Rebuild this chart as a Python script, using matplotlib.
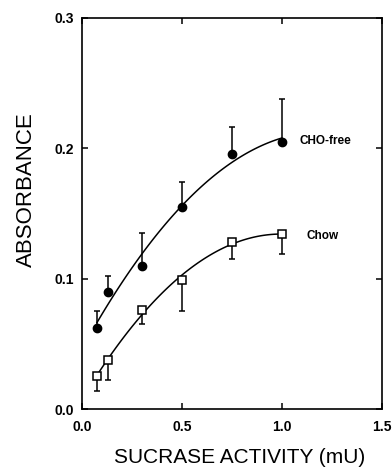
import numpy as np
import matplotlib
matplotlib.use("Agg")
import matplotlib.pyplot as plt

plt.rcParams['font.family'] = ['Liberation Sans', 'DejaVu Sans']

# CHO-free group (filled circles, error bars upward)
cho_x = [0.075, 0.13, 0.30, 0.50, 0.75, 1.00]
cho_y = [0.0625, 0.090, 0.110, 0.155, 0.196, 0.205]
cho_err = [0.013, 0.012, 0.025, 0.019, 0.020, 0.033]

# Chow group (open squares, error bars downward)
chow_x = [0.075, 0.13, 0.30, 0.50, 0.75, 1.00]
chow_y = [0.0255, 0.0375, 0.076, 0.099, 0.128, 0.134]
chow_err = [0.012, 0.015, 0.011, 0.024, 0.013, 0.015]

xticks = [0.0, 0.5, 1.0, 1.5]
yticks = [0.0, 0.1, 0.2, 0.3]

fig = plt.figure(figsize=(3.92, 4.71), dpi=100)
ax = fig.add_axes([0.209, 0.1316, 0.765, 0.8302])

# smooth fitted curves (2nd order fit through the means)
for xs, ys in [(cho_x, cho_y), (chow_x, chow_y)]:
    p = np.polyfit(xs, ys, 2)
    xx = np.linspace(min(xs), max(xs), 100)
    ax.plot(xx, np.polyval(p, xx), color='black', lw=1.1)

ax.errorbar(cho_x, cho_y, yerr=[np.zeros(len(cho_err)), cho_err], fmt='o',
            color='black', ms=6, ecolor='black', elinewidth=1.1,
            capsize=2.5, capthick=1.1)
ax.errorbar(chow_x, chow_y, yerr=[chow_err, np.zeros(len(chow_err))], fmt='s',
            color='black', mfc='white', mec='black', mew=1.1, ms=6,
            ecolor='black', elinewidth=1.1, capsize=2.5, capthick=1.1)

ax.text(1.09, 0.2054, 'CHO-free', fontsize=8.5, fontweight='bold', va='center')
ax.text(1.125, 0.1330, 'Chow', fontsize=8.5, fontweight='bold', va='center')

ax.set_xlim(0, 1.5)
ax.set_ylim(0, 0.3)
ax.set_xticks(xticks)
ax.set_yticks(yticks)
ax.set_xticklabels(['%.1f' % t for t in xticks], fontweight='bold')
ax.set_yticklabels(['%.1f' % t for t in yticks], fontweight='bold')
ax.tick_params(direction='in', top=True, right=True, length=4, width=1.1,
               labelsize=10, pad=6)
ax.tick_params(axis='x', pad=8)
for s in ax.spines.values():
    s.set_linewidth(1.2)

ax.set_xlabel('SUCRASE ACTIVITY (mU)', fontsize=15)
ax.xaxis.set_label_coords(0.527, -0.1)
ax.set_ylabel('ABSORBANCE', fontsize=16)
ax.yaxis.set_label_coords(-0.15, 0.56)

fig.savefig('out.png', dpi=100)
